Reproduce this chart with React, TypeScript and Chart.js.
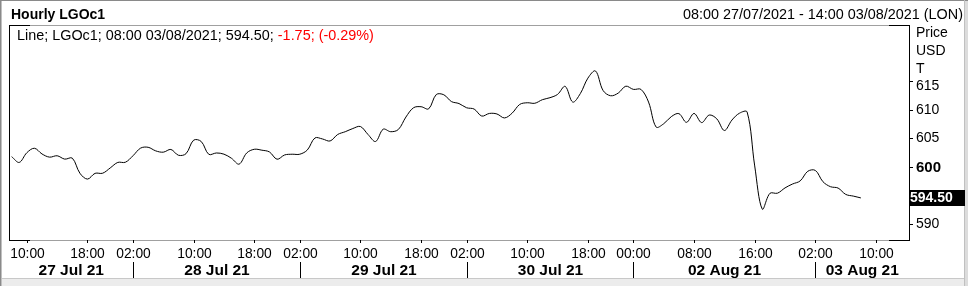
import React, { useEffect, useRef } from "react";
import { Chart, registerables } from "chart.js";

Chart.register(...registerables);

// ---- data ----
const sessionDates = ["27/07", "28/07", "29/07", "30/07", "02/08", "03/08"];
const sessionDayLabels = ["27 Jul 21", "28 Jul 21", "29 Jul 21", "30 Jul 21", "02 Aug 21", "03 Aug 21"];
const sessionFirstHour = [8, 2, 2, 2, 0, 2];
const sessionLastHour = [23, 23, 23, 23, 23, 14];

const prices = [
  601.75, 600.74, 602.44, 603.23, 602.23, 601.67, 601.91, 601.32, 601.49, 598.84,
  597.81, 598.82, 598.84, 599.77, 600.74, 600.77, 601.91, 603.25, 603.4, 602.77,
  602.54, 603.02, 602.0, 602.28, 604.65, 604.42, 602.16, 602.4, 602.19, 601.46,
  600.44, 602.4, 603.05, 602.89, 602.58, 601.3, 602.05, 602.18, 602.18, 602.93,
  605.04, 604.86, 604.51, 605.65, 606.14, 606.7, 607.05, 605.65, 604.42, 606.58,
  606.14, 606.53, 608.72, 610.35, 610.53, 610.16, 612.67, 612.63, 611.44, 611.09,
  610.35, 610.12, 608.89, 609.35, 609.26, 608.56, 609.39, 610.93, 611.23, 611.14,
  611.77, 612.12, 612.7, 614.11, 611.35, 612.84, 615.56, 616.82, 613.39, 612.46,
  612.93, 614.14, 613.58, 613.58, 611.35, 606.96, 607.54, 608.79, 609.32, 607.79,
  609.35, 607.74, 609.07, 608.4, 606.35, 608.19, 609.4, 609.6, 600.12, 592.53,
  595.3, 595.33, 596.26, 596.95, 597.49, 599.18, 599.33, 597.35, 596.47, 596.23,
  595.12, 594.82, 594.5,
];

const timeTicks = [
  "27/07 10:00", "27/07 18:00", "28/07 02:00", "28/07 10:00", "28/07 18:00",
  "29/07 02:00", "29/07 10:00", "29/07 18:00", "30/07 02:00", "30/07 10:00",
  "30/07 18:00", "02/08 00:00", "02/08 08:00", "02/08 16:00", "03/08 02:00",
  "03/08 10:00",
];

const yTicks = [590, 600, 605, 610, 615];
const yBoldTick = 600;
const yMin = 587.1;
const yMax = 624.9;
const lastPriceLabel = "594.50";
const titleText = "Hourly LGOc1";
const rangeText = "08:00 27/07/2021 - 14:00 03/08/2021 (LON)";
const legendBlack = "Line; LGOc1; 08:00 03/08/2021; 594.50; ";
const legendRed = "-1.75; (-0.29%)";
const unitLines = ["Price", "USD", "T"];

// categories built from sessions
const categories: string[] = [];
const sessionStartIndex: number[] = [];
sessionDates.forEach((d, s) => {
  sessionStartIndex.push(categories.length);
  for (let h = sessionFirstHour[s]; h <= sessionLastHour[s]; h++) {
    categories.push(`${d} ${String(h).padStart(2, "0")}:00`);
  }
});

const FONT = '"Liberation Sans", Arial, sans-serif';

const framePlugin = {
  id: "frame",
  afterDraw(chart: any) {
    const { ctx, chartArea, scales } = chart;
    const { left, right, top, bottom } = chartArea;
    const xs = scales.x;
    const ys = scales.y;
    const W = chart.width;
    const H = chart.height;
    ctx.save();

    // outer frame
    ctx.fillStyle = "#ececec";
    ctx.fillRect(0, 279, W, H - 279);
    ctx.fillStyle = "#c8c8c8";
    ctx.fillRect(0, 278, W, 1);
    ctx.fillStyle = "#dcdcdc";
    ctx.fillRect(W - 4, 0, 4, H);
    ctx.fillStyle = "#8a8a8a";
    ctx.fillRect(0, 0, W, 1);
    ctx.fillRect(0, 0, 1, H);
    ctx.fillStyle = "#c0c0c0";
    ctx.fillRect(1, 1, 1, H - 1);
    ctx.fillRect(W - 4, 0, 1, H);

    // plot box
    ctx.fillStyle = "#a0a0a0";
    ctx.fillRect(left, top, right - left, 1);
    ctx.fillRect(left, bottom, right - left, 1);
    ctx.fillStyle = "#000";
    ctx.fillRect(left, top, 1, bottom - top + 1);
    ctx.fillRect(right, top, 1, bottom - top + 1);
    ctx.fillRect(left, top, 21, 1);
    ctx.fillRect(left, bottom, 21, 1);
    ctx.fillRect(right - 20, top, 21, 1);
    ctx.fillRect(right - 20, bottom, 21, 1);

    // header
    ctx.textBaseline = "alphabetic";
    ctx.fillStyle = "#000";
    ctx.font = `bold 14px ${FONT}`;
    ctx.textAlign = "left";
    ctx.fillText(titleText, 11, 19);
    ctx.font = `14.4px ${FONT}`;
    ctx.textAlign = "right";
    ctx.fillText(rangeText, 963, 19);
    ctx.textAlign = "left";
    ctx.fillText(legendBlack, 17, 40);
    const w = ctx.measureText(legendBlack).width;
    ctx.fillStyle = "#ff0000";
    ctx.fillText(legendRed, 17 + w, 40);

    // units
    ctx.fillStyle = "#000";
    ctx.font = `14px ${FONT}`;
    ctx.textBaseline = "middle";
    unitLines.forEach((u, i) => ctx.fillText(u, 916, 33.5 + i * 17.8));
    const unitsBottom = 33.5 + (unitLines.length - 1) * 17.8;

    // y ticks
    yTicks.forEach((v) => {
      const py = Math.round(ys.getPixelForValue(v)) + 0.5;
      ctx.strokeStyle = "#000";
      ctx.lineWidth = 1;
      ctx.beginPath();
      ctx.moveTo(right, py);
      ctx.lineTo(right + 4, py);
      ctx.stroke();
      ctx.font = v === yBoldTick ? `bold 15px ${FONT}` : `14px ${FONT}`;
      const ly = Math.max(py, unitsBottom + 17.5);
      ctx.fillText(String(v), 916, ly);
    });

    // last price badge
    const bp = ys.getPixelForValue(prices[prices.length - 1]);
    ctx.fillStyle = "#000";
    ctx.fillRect(right, Math.round(bp) - 8, 56, 16);
    ctx.fillStyle = "#fff";
    ctx.font = `bold 14px ${FONT}`;
    ctx.fillText(lastPriceLabel, right + 1, Math.round(bp) + 0.5);

    // x ticks
    ctx.fillStyle = "#000";
    ctx.strokeStyle = "#000";
    ctx.font = `13.8px ${FONT}`;
    ctx.textAlign = "center";
    ctx.textBaseline = "alphabetic";
    timeTicks.forEach((t) => {
      const i = categories.indexOf(t);
      const px = Math.round(xs.getPixelForValue(i)) + 0.5;
      ctx.beginPath();
      ctx.moveTo(px, bottom);
      ctx.lineTo(px, bottom + 3);
      ctx.stroke();
      ctx.fillText(t.split(" ")[1], px, 257.5);
    });

    // day separators and labels
    const bounds = [left];
    for (let s = 1; s < sessionStartIndex.length; s++) {
      const px = Math.round(xs.getPixelForValue(sessionStartIndex[s])) + 0.5;
      bounds.push(px);
      ctx.beginPath();
      ctx.moveTo(px, 262);
      ctx.lineTo(px, 278);
      ctx.stroke();
    }
    bounds.push(right);
    ctx.font = `bold 15.5px ${FONT}`;
    sessionDayLabels.forEach((d, s) => {
      ctx.fillText(d, (bounds[s] + bounds[s + 1]) / 2, 275);
    });

    ctx.restore();
  },
};

export default function App() {
  const ref = useRef<HTMLCanvasElement>(null);
  useEffect(() => {
    const chart = new Chart(ref.current as HTMLCanvasElement, {
      type: "line",
      data: {
        datasets: [
          {
            data: prices.map((p, i) => ({ x: i, y: p })),
            borderColor: "#000",
            borderWidth: 1,
            pointRadius: 0,
            tension: 0.35,
            fill: false,
          },
        ],
      },
      options: {
        animation: false,
        responsive: false,
        devicePixelRatio: 1,
        events: [],
        layout: { padding: { left: 9, right: 59, top: 25, bottom: 46 } },
        plugins: { legend: { display: false }, tooltip: { enabled: false } },
        scales: {
          x: { type: "linear", display: false, min: -0.35, max: categories.length - 1 + 0.35 },
          y: { type: "linear", display: false, min: yMin, max: yMax },
        },
      },
      plugins: [framePlugin],
    } as any);
    return () => chart.destroy();
  }, []);
  return (
    <div style={{ position: "absolute", left: 0, top: 0, width: 968, height: 286, background: "#fff" }}>
      <canvas ref={ref} width={968} height={286} style={{ display: "block" }} />
    </div>
  );
}
